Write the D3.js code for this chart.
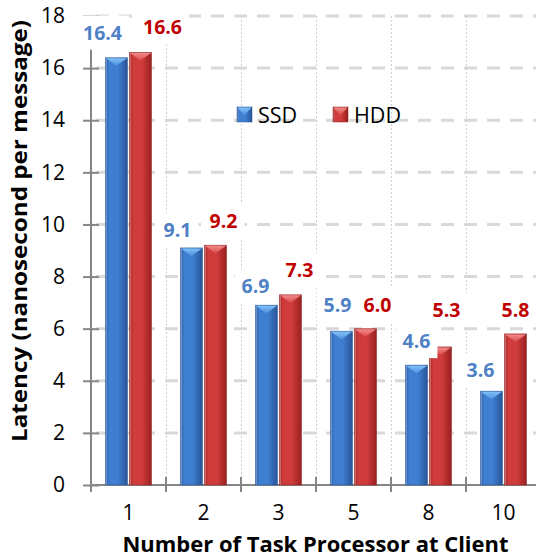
<!DOCTYPE html>
<html>
<head>
<meta charset="utf-8">
<script src="https://cdn.jsdelivr.net/npm/d3@7"></script>
<style>
  html, body { margin: 0; padding: 0; background: #fff; }
  svg { display: block; }
</style>
</head>
<body>
<svg id="chart" width="536" height="559"></svg>
<script>
// Latency per message for SSD vs HDD, by number of task processors
const categories = ["1", "2", "3", "5", "8", "10"];
const seriesNames = ["SSD", "HDD"];
const ssdValues = [16.4, 9.1, 6.9, 5.9, 4.6, 3.6];
const hddValues = [16.6, 9.2, 7.3, 6.0, 5.3, 5.8];
const yTickValues = [0, 2, 4, 6, 8, 10, 12, 14, 16, 18];

// Annotation placement: [dx from bar centre, gap between baseline and bar top]
const ssdLabelShift = [[-14, 18], [-14, 11], [-11, 12], [-4, 19], [0, 17], [-11, 14]];
const hddLabelShift = [[22, 18], [8, 17], [9, 18], [12, 17], [6, 30], [0, 17]];

(function () {
const W = 536, H = 559;
const plotLeft = 91, plotRight = 541, plotTop = 16, plotBottom = 485;

const svg = d3.select("#chart");
svg.append("rect").attr("width", W).attr("height", H).attr("fill", "#fff");

const x = d3.scaleBand().domain(categories).range([plotLeft, plotRight]).padding(0);
const sub = d3.scaleBand().domain(seriesNames).range([-23, 23]).paddingInner(2 / 24);
const y = d3.scaleLinear().domain([0, 18]).range([plotBottom, plotTop]);

const rows = categories.map((c, i) => ({ cat: c, SSD: ssdValues[i], HDD: hddValues[i], i }));

// Gradients for the bevelled bar look
const defs = svg.append("defs");
const palettes = {
  SSD: { edgeL: "#2c5ea6", mid: "#3f7fd2", edgeR: "#285597", tri0: "#80c0f8", tri1: "#4f92e0", stroke: "#24508f" },
  HDD: { edgeL: "#a82626", mid: "#d03c3c", edgeR: "#9a2020", tri0: "#f28a8a", tri1: "#da4c4c", stroke: "#8c1c1c" }
};
Object.entries(palettes).forEach(([k, p]) => {
  const g = defs.append("linearGradient").attr("id", "body-" + k)
    .attr("x1", "0").attr("x2", "1").attr("y1", "0").attr("y2", "0");
  g.append("stop").attr("offset", "0%").attr("stop-color", p.edgeL);
  g.append("stop").attr("offset", "18%").attr("stop-color", p.mid);
  g.append("stop").attr("offset", "55%").attr("stop-color", p.mid);
  g.append("stop").attr("offset", "100%").attr("stop-color", p.edgeR);
  const t = defs.append("linearGradient").attr("id", "tri-" + k)
    .attr("x1", "0").attr("x2", "0").attr("y1", "0").attr("y2", "1");
  t.append("stop").attr("offset", "0%").attr("stop-color", p.tri0);
  t.append("stop").attr("offset", "100%").attr("stop-color", p.tri1);
});

// Horizontal dashed gridlines
svg.append("g").selectAll("line")
  .data(yTickValues.filter(v => v > 0))
  .join("line")
  .attr("x1", plotLeft).attr("x2", plotRight)
  .attr("y1", d => y(d)).attr("y2", d => y(d))
  .attr("stroke", "#d9d9d9").attr("stroke-width", 3)
  .attr("stroke-dasharray", "13,10").attr("stroke-dashoffset", 18);

// Vertical dotted gridlines at category boundaries
svg.append("g").selectAll("line")
  .data(categories.slice(1))
  .join("line")
  .attr("x1", d => Math.round(x(d)) + 0.5).attr("x2", d => Math.round(x(d)) + 0.5)
  .attr("y1", plotTop).attr("y2", plotBottom)
  .attr("stroke", "#cfcfcf").attr("stroke-width", 1)
  .attr("stroke-dasharray", "2,2");

// Axes
const yAxis = d3.axisLeft(y).tickValues(yTickValues).tickSize(0).tickPadding(26);
const gy = svg.append("g").attr("transform", `translate(${plotLeft},0)`).call(yAxis);
gy.select(".domain").remove();
gy.selectAll("text")
  .attr("font-family", "'Open Sans', sans-serif").attr("font-size", 21)
  .attr("fill", "#000");
gy.selectAll(".tick").append("line")
  .attr("x1", -8).attr("x2", 8).attr("stroke", "#868686").attr("stroke-width", 2);

const xAxis = d3.axisBottom(x).tickSize(0).tickPadding(20);
const gx = svg.append("g").attr("transform", `translate(0,${plotBottom})`).call(xAxis);
gx.select(".domain").remove();
gx.selectAll("text")
  .attr("font-family", "'Open Sans', sans-serif").attr("font-size", 21)
  .attr("fill", "#000");
// x boundary ticks
svg.append("g").selectAll("line")
  .data(categories.map(c => x(c)).concat([plotRight]))
  .join("line")
  .attr("x1", d => d).attr("x2", d => d)
  .attr("y1", plotBottom - 8).attr("y2", plotBottom + 7)
  .attr("stroke", "#868686").attr("stroke-width", 2);

svg.append("line").attr("x1", plotLeft).attr("x2", plotLeft).attr("y1", plotTop).attr("y2", plotBottom)
  .attr("stroke", "#868686").attr("stroke-width", 2);
svg.append("line").attr("x1", plotLeft).attr("x2", plotRight).attr("y1", plotBottom).attr("y2", plotBottom)
  .attr("stroke", "#868686").attr("stroke-width", 2);

// Bars
function drawBar(g, bx, by, bw, bh, key) {
  const p = palettes[key];
  g.append("rect").attr("x", bx).attr("y", by).attr("width", bw).attr("height", bh)
    .attr("fill", `url(#body-${key})`).attr("stroke", p.stroke).attr("stroke-width", 0.8)
    .attr("stroke-opacity", 0.6);
  const th = Math.min(8, bh);
  g.append("path")
    .attr("d", `M${bx + 0.5},${by + 0.5}L${bx + bw - 0.5},${by + 0.5}L${bx + bw / 2},${by + th}Z`)
    .attr("fill", `url(#tri-${key})`);
  g.append("line").attr("x1", bx + 1).attr("x2", bx + 1).attr("y1", by + 1).attr("y2", by + bh)
    .attr("stroke", "#ffffff").attr("stroke-opacity", 0.3);
}

const barsG = svg.append("g");
rows.forEach(r => {
  seriesNames.forEach(s => {
    const bx = x(r.cat) + x.bandwidth() / 2 + sub(s);
    const by = y(r[s]);
    drawBar(barsG, bx, by, sub.bandwidth(), plotBottom - by, s);
  });
});

// Value labels with white boxes
const labelG = svg.append("g");
const fmt = d3.format(".1f");
const labelSpec = [
  { key: "SSD", values: ssdValues, shift: ssdLabelShift, color: "#4f81c6" },
  { key: "HDD", values: hddValues, shift: hddLabelShift, color: "#c00000" }
];
labelSpec.forEach(spec => {
  spec.values.forEach((v, i) => {
    const cx = x(categories[i]) + x.bandwidth() / 2 + sub(spec.key) + sub.bandwidth() / 2 + spec.shift[i][0];
    const base = y(v) - spec.shift[i][1];
    const g = labelG.append("g");
    const t = g.append("text")
      .attr("x", cx).attr("y", base).attr("text-anchor", "middle")
      .attr("font-family", "'Open Sans', sans-serif").attr("font-weight", 700)
      .attr("font-size", 19.5).attr("fill", spec.color).text(fmt(v));
    const bb = t.node().getBBox();
    g.insert("rect", "text")
      .attr("x", bb.x - 7).attr("y", base - 24)
      .attr("width", bb.width + 14).attr("height", 34)
      .attr("fill", "#fff");
  });
});

// Legend
const legend = svg.append("g");
const legendPos = [[237, 107], [333, 107]];
seriesNames.forEach((s, i) => {
  const [lx, ly] = legendPos[i];
  drawBar(legend, lx, ly, 15, 15, s);
  legend.append("text").attr("x", lx + 21).attr("y", ly + 15.5)
    .attr("font-family", "'Open Sans', sans-serif").attr("font-size", 21.5)
    .attr("fill", "#000").text(s);
});

// Axis titles
svg.append("text")
  .attr("x", 315.5).attr("y", 552).attr("text-anchor", "middle")
  .attr("font-family", "'Open Sans', sans-serif").attr("font-weight", 700)
  .attr("font-size", 21).attr("textLength", 386).attr("lengthAdjust", "spacingAndGlyphs")
  .attr("fill", "#000").text("Number of Task Processor at Client");

svg.append("text")
  .attr("transform", "translate(27,231) rotate(-90)").attr("text-anchor", "middle")
  .attr("font-family", "'Open Sans', sans-serif").attr("font-weight", 700)
  .attr("font-size", 21).attr("textLength", 422).attr("lengthAdjust", "spacingAndGlyphs")
  .attr("fill", "#000").text("Latency (nanosecond per message)");
})();
</script>
</body>
</html>
